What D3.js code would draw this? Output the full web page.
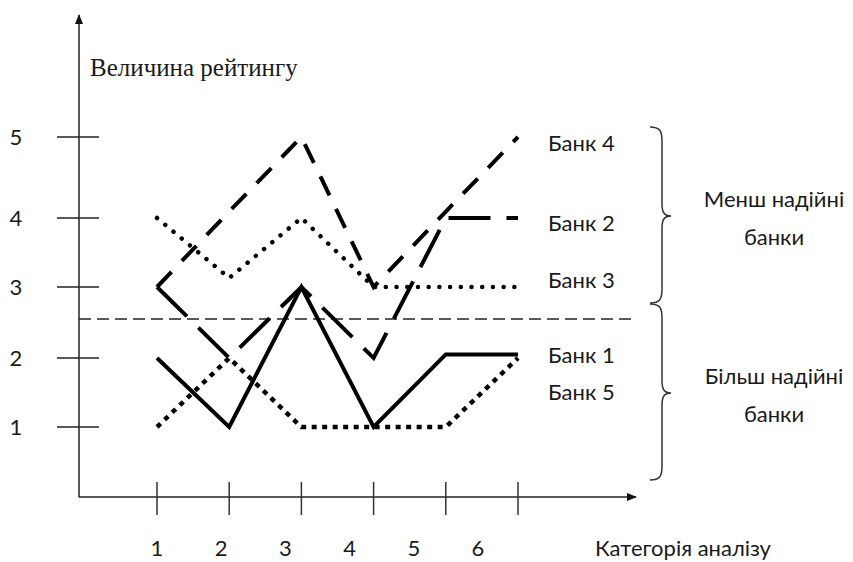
<!DOCTYPE html>
<html>
<head>
<meta charset="utf-8">
<script src="https://cdn.jsdelivr.net/npm/d3@7"></script>
<style>
  body { margin: 0; background: #fff; }
  text { font-family: Lato, "Open Sans", sans-serif; fill: #1a1a1a; }
  .serif { font-family: "Liberation Serif", "DejaVu Serif", serif; }
</style>
</head>
<body>
<div id="chart"></div>
<script>
// categories of analysis and rating levels
var categories = [1, 2, 3, 4, 5, 6];
var ratingTicks = [1, 2, 3, 4, 5];

// rating of each bank per category
var bank1 = [2, 1, 3, 1, 2.05, 2.05];
var bank2 = [3, 2, 3, 2, 4, 4];
var bank3 = [4, 3.13, 4, 3, 3, 3];
var bank4 = [3, 4.08, 5, 3, 4.08, 5];
var bank5 = [1, 2, 1, 1, 1, 2];
var bankNames = ["Банк 1", "Банк 2", "Банк 3", "Банк 4", "Банк 5"];

// border between more and less reliable banks
var threshold = 2.55;
var groupLabels = [["Менш надійні", "банки"], ["Більш надійні", "банки"]];

var yTitle = "Величина рейтингу";
var xTitle = "Категорія аналізу";

function init() {
    var w = 853, h = 562;
    var axisX = 79, axisY = 497;
    var fs = "22px";

    var svg = d3.select("#chart").append("svg")
        .attr("width", w)
        .attr("height", h);

    var x = d3.scalePoint().domain(categories).range([157, 518]);
    var xLab = d3.scalePoint().domain(categories).range([157, 478]);
    var y = d3.scaleLinear().domain([1, 2, 3, 4, 5]).range([427, 358, 287, 218, 137]);

    //arrow marker
    svg.append("defs").append("marker")
        .attr("id", "arrow")
        .attr("viewBox", "0 0 10 10")
        .attr("refX", 9).attr("refY", 5)
        .attr("markerWidth", 10).attr("markerHeight", 10)
        .attr("markerUnits", "userSpaceOnUse")
        .attr("orient", "auto")
        .append("path")
        .attr("d", "M0,1 L10,5 L0,9 Z")
        .attr("fill", "#111");

    //axes
    svg.append("line")
        .attr("x1", axisX).attr("y1", axisY)
        .attr("x2", axisX).attr("y2", 15)
        .attr("stroke", "#222").attr("stroke-width", 1.5)
        .attr("marker-end", "url(#arrow)");
    svg.append("line")
        .attr("x1", axisX).attr("y1", axisY)
        .attr("x2", 636).attr("y2", axisY)
        .attr("stroke", "#222").attr("stroke-width", 1.5)
        .attr("marker-end", "url(#arrow)");

    //y ticks crossing the axis
    svg.selectAll(".ytick")
        .data(ratingTicks)
        .enter().append("line")
        .attr("class", "ytick")
        .attr("x1", 57).attr("x2", 99)
        .attr("y1", function(d) { return y(d); })
        .attr("y2", function(d) { return y(d); })
        .attr("stroke", "#222").attr("stroke-width", 1.5);

    svg.selectAll(".ylab")
        .data(ratingTicks)
        .enter().append("text")
        .attr("class", "ylab")
        .attr("x", 16)
        .attr("y", function(d) { return y(d) + 8; })
        .attr("text-anchor", "middle")
        .style("font-size", fs)
        .text(function(d) { return d; });

    //x ticks
    svg.selectAll(".xtick")
        .data(categories)
        .enter().append("line")
        .attr("class", "xtick")
        .attr("x1", function(d) { return x(d); })
        .attr("x2", function(d) { return x(d); })
        .attr("y1", 482).attr("y2", 515)
        .attr("stroke", "#333").attr("stroke-width", 1.5);

    svg.selectAll(".xlab")
        .data(categories)
        .enter().append("text")
        .attr("class", "xlab")
        .attr("x", function(d) { return xLab(d); })
        .attr("y", 556)
        .attr("text-anchor", "middle")
        .style("font-size", fs)
        .text(function(d) { return d; });

    svg.append("text")
        .attr("x", 595).attr("y", 556)
        .style("font-size", fs)
        .text(xTitle);

    svg.append("text")
        .attr("class", "serif")
        .attr("x", 90).attr("y", 76)
        .style("font-size", "25px")
        .text(yTitle);

    //threshold line
    svg.append("line")
        .attr("x1", axisX).attr("x2", 637)
        .attr("y1", y(threshold)).attr("y2", y(threshold))
        .attr("stroke", "#222").attr("stroke-width", 1.5)
        .attr("stroke-dasharray", "12,6");

    //series
    var series = [
        { name: bankNames[3], values: bank4, dash: "21,15", width: 4, cap: "butt", dy: 14 },
        { name: bankNames[1], values: bank2, dash: "42,16", width: 4, cap: "butt", dy: 13 },
        { name: bankNames[2], values: bank3, dash: "0.01,10.7", width: 4.5, cap: "round", dy: 1 },
        { name: bankNames[0], values: bank1, dash: null, width: 4, cap: "butt", dy: 9 },
        { name: bankNames[4], values: bank5, dash: "5,5.5", width: 4.5, cap: "butt", dy: 42 }
    ];

    var line = d3.line()
        .x(function(d, i) { return x(categories[i]); })
        .y(function(d) { return y(d); });

    series.forEach(function(s) {
        svg.append("path")
            .datum(s.values)
            .attr("d", line)
            .attr("fill", "none")
            .attr("stroke", "#000")
            .attr("stroke-width", s.width)
            .attr("stroke-linecap", s.cap)
            .attr("stroke-linejoin", "miter")
            .attr("stroke-dasharray", s.dash);

        svg.append("text")
            .attr("x", 548)
            .attr("y", y(s.values[s.values.length - 1]) + s.dy)
            .style("font-size", fs)
            .text(s.name);
    });

    //curly braces
    function brace(top, bottom, mid) {
        var bx = 662, tip = 671, ex = 650;
        return "M" + ex + "," + top +
            " C" + (bx - 2) + "," + top + " " + bx + "," + (top + 4) + " " + bx + "," + (top + 14) +
            " L" + bx + "," + (mid - 12) +
            " C" + bx + "," + (mid - 4) + " " + (bx + 2) + "," + mid + " " + tip + "," + mid +
            " C" + (bx + 2) + "," + mid + " " + bx + "," + (mid + 4) + " " + bx + "," + (mid + 12) +
            " L" + bx + "," + (bottom - 14) +
            " C" + bx + "," + (bottom - 4) + " " + (bx - 2) + "," + bottom + " " + ex + "," + bottom;
    }
    var braces = [[127, 303, 216], [304, 480, 393]];
    svg.selectAll(".brace")
        .data(braces)
        .enter().append("path")
        .attr("class", "brace")
        .attr("d", function(d) { return brace(d[0], d[1], d[2]); })
        .attr("fill", "none")
        .attr("stroke", "#333")
        .attr("stroke-width", 1.5);

    groupLabels.forEach(function(g, i) {
        var mid = braces[i][2];
        svg.append("text")
            .attr("x", 774).attr("y", mid - 9)
            .attr("text-anchor", "middle")
            .style("font-size", fs)
            .text(g[0]);
        svg.append("text")
            .attr("x", 774).attr("y", mid + 29)
            .attr("text-anchor", "middle")
            .style("font-size", fs)
            .text(g[1]);
    });
}

window.onload = init;
</script>
</body>
</html>
